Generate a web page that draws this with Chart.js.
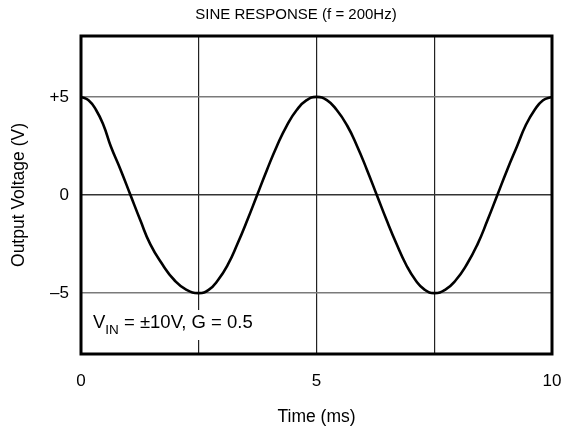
<!DOCTYPE html>
<html>
<head>
<meta charset="utf-8">
<script src="https://cdn.jsdelivr.net/npm/chart.js@4/dist/chart.umd.min.js"></script>
<style>
  html, body { margin: 0; padding: 0; background: #fff; }
  #wrap { width: 570px; height: 430px; }
</style>
</head>
<body>
<div id="wrap"><canvas id="chart"></canvas></div>
<script>
// time (ms) and output voltage (V)
const timeMs = [0, 0.16, 0.32, 0.48, 0.63, 0.84, 1.05, 1.26, 1.47, 1.73, 1.98, 2.24, 2.5,
  2.71, 2.91, 3.12, 3.32, 3.53, 3.74, 3.95, 4.16, 4.37, 4.58, 4.79, 5,
  5.22, 5.43, 5.65, 5.86, 6.07, 6.28, 6.49, 6.7, 6.9, 7.1, 7.3, 7.5,
  7.73, 7.96, 8.19, 8.42, 8.63, 8.84, 9.05, 9.26, 9.44, 9.63, 9.81, 10];
const outVolts = [5, 4.83, 4.33, 3.54, 2.5, 1.29, 0, -1.29, -2.5, -3.54, -4.33, -4.83, -5,
  -4.83, -4.33, -3.54, -2.5, -1.29, 0, 1.29, 2.5, 3.54, 4.33, 4.83, 5,
  4.83, 4.33, 3.54, 2.5, 1.29, 0, -1.29, -2.5, -3.54, -4.33, -4.83, -5,
  -4.83, -4.33, -3.54, -2.5, -1.29, 0, 1.29, 2.5, 3.54, 4.33, 4.83, 5];
const xGridTicks = [0, 2.5, 5, 7.5, 10];
const xTickLabels = { 0: "0", 5: "5", 10: "10" };
const yGridTicks = [-5, 0, 5];
const yTickLabels = { "-5": "\u20135", "0": "0", "5": "+5" };

const FONT = "'Liberation Sans', Arial, sans-serif";

// title, frame round the plot + the VIN note
const framePlugin = {
  id: "frame",
  afterDraw(chart) {
    const { ctx, chartArea: a } = chart;
    ctx.save();
    ctx.fillStyle = "#000";
    ctx.font = "15px " + FONT;
    ctx.textAlign = "center";
    ctx.textBaseline = "middle";
    ctx.fillText("SINE RESPONSE (f = 200Hz)", 296, 15);

    // note with white box behind it
    ctx.textAlign = "left";
    ctx.fillStyle = "#fff";
    ctx.fillRect(88, 310, 174, 30);
    ctx.fillStyle = "#000";
    ctx.textBaseline = "alphabetic";
    ctx.font = "18.5px " + FONT;
    let x = 93;
    ctx.fillText("V", x, 328);
    x += ctx.measureText("V").width;
    ctx.font = "13.5px " + FONT;
    ctx.fillText("IN", x, 334);
    x += ctx.measureText("IN").width;
    ctx.font = "18.5px " + FONT;
    ctx.fillText(" = \u00b110V, G = 0.5", x, 328);

    // frame
    ctx.strokeStyle = "#000";
    ctx.lineWidth = 3;
    ctx.strokeRect(a.left, a.top, a.right - a.left, a.bottom - a.top);
    ctx.restore();
  }
};

new Chart(document.getElementById("chart"), {
  type: "line",
  data: {
    datasets: [{
      data: timeMs.map((t, i) => ({ x: t, y: outVolts[i] })),
      borderColor: "#000",
      borderWidth: 2.6,
      pointRadius: 0,
      tension: 0.5,
      fill: false
    }]
  },
  options: {
    responsive: true,
    maintainAspectRatio: false,
    animation: false,
    layout: { padding: { left: 0, right: 18, top: 36, bottom: 0 } },
    plugins: {
      legend: { display: false },
      tooltip: { enabled: false }
    },
    scales: {
      x: {
        type: "linear",
        min: 0,
        max: 10,
        afterBuildTicks: (s) => { s.ticks = xGridTicks.map(v => ({ value: v })); },
        afterFit: (s) => { s.height = 76; },
        grid: { color: "#222", lineWidth: 1.2, drawTicks: true, tickLength: 17, tickColor: "rgba(0,0,0,0)" },
        border: { display: false },
        ticks: {
          padding: 0,
          color: "#000",
          maxRotation: 0,
          autoSkip: false,
          font: { family: FONT, size: 17 },
          callback: (v) => xTickLabels[v] ?? ""
        },
        title: {
          display: true,
          text: "Time (ms)",
          color: "#000",
          font: { family: FONT, size: 17.5 },
          padding: { top: 0, bottom: 2 }
        }
      },
      y: {
        min: -8.1,
        max: 8.1,
        afterBuildTicks: (s) => { s.ticks = yGridTicks.map(v => ({ value: v })); },
        afterFit: (s) => { s.width = 81; },
        grid: {
          color: (c) => c.tick && c.tick.value === 0 ? "#333" : "#7a7a7a",
          lineWidth: 1.5,
          drawTicks: false
        },
        border: { display: false },
        ticks: {
          padding: 12,
          color: "#000",
          font: { family: FONT, size: 17 },
          callback: (v) => yTickLabels[v] ?? ""
        },
        title: {
          display: true,
          text: "Output Voltage (V)",
          color: "#000",
          font: { family: FONT, size: 17.5 },
          padding: { top: 9, bottom: 0 }
        }
      }
    }
  },
  plugins: [framePlugin]
});
</script>
</body>
</html>
